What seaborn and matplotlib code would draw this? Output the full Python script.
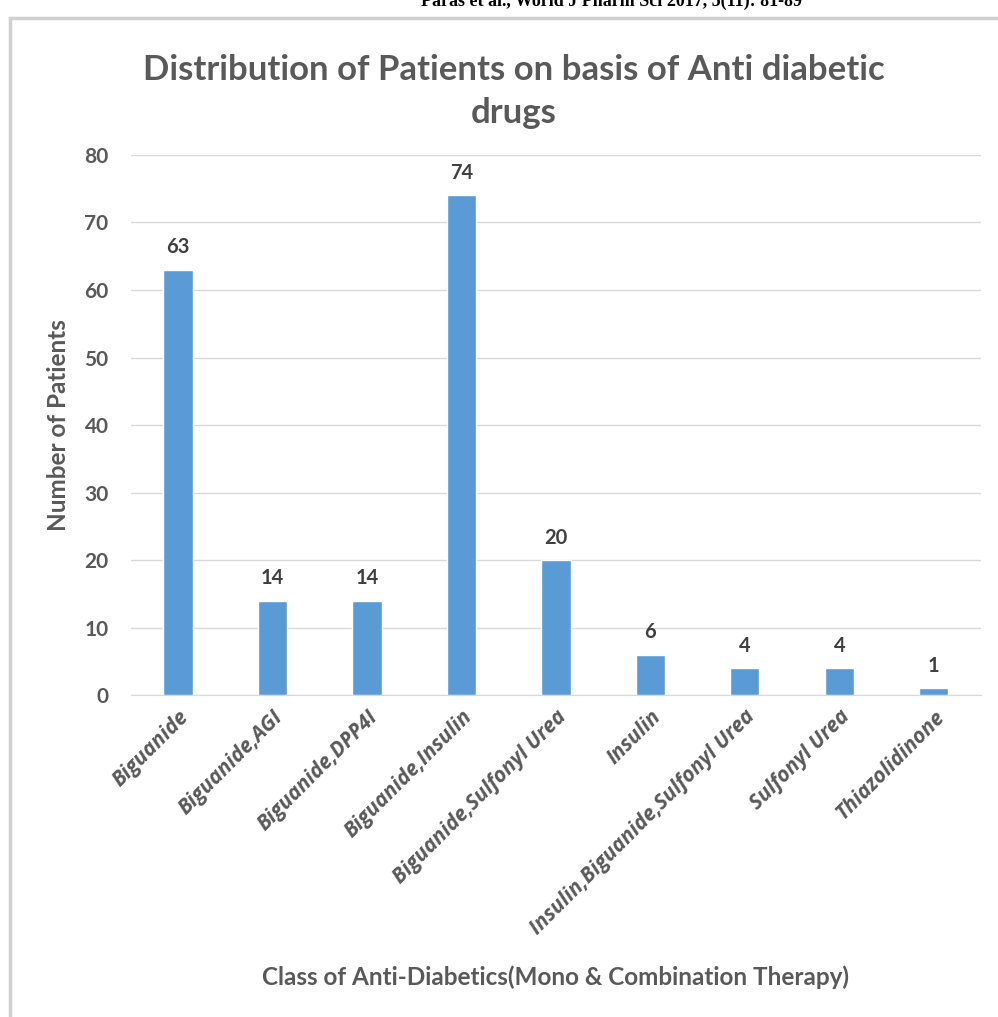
import seaborn as sns
import matplotlib.pyplot as plt
import pandas as pd
from matplotlib.patches import Rectangle

drug_classes = ['Biguanide', 'Biguanide,AGI', 'Biguanide,DPP4I', 'Biguanide,Insulin',
                'Biguanide,Sulfonyl Urea', 'Insulin', 'Insulin,Biguanide,Sulfonyl Urea',
                'Sulfonyl Urea', 'Thiazolidinone']
patients = [63, 14, 14, 74, 20, 6, 4, 4, 1]
y_ticks = [0, 10, 20, 30, 40, 50, 60, 70, 80]

df = pd.DataFrame({'cls': drug_classes, 'n': patients})

sns.set_style('white')
plt.rcParams['font.family'] = ['Lato', 'DejaVu Sans']

fig = plt.figure(figsize=(9.98, 10.17), dpi=100)
ax = fig.add_axes([0.131, 0.3166, 0.852, 0.531])

sns.barplot(data=df, x='cls', y='n', color='#5B9BD5', width=0.31,
            saturation=1, ax=ax, zorder=3)

ax.set_ylim(0, 80)
ax.set_yticks(y_ticks)
ax.set_xlim(-0.5, len(drug_classes) - 0.5)
ax.yaxis.grid(True, color='#D9D9D9', linewidth=1, zorder=0)
for s in ['top', 'right', 'left']:
    ax.spines[s].set_visible(False)
ax.spines['bottom'].set_color('#D9D9D9')
ax.tick_params(axis='both', length=0)
ax.tick_params(axis='y', pad=16)

for lbl in ax.get_yticklabels():
    lbl.set_fontsize(15)
    lbl.set_fontweight('bold')
    lbl.set_color('#595959')

ax.set_xticks(range(len(drug_classes)))
ax.set_xticklabels(drug_classes, rotation=45, ha='right', rotation_mode='anchor',
                   fontsize=15, fontweight='bold', fontstyle='italic', color='#595959',
                   family=['Open Sans', 'DejaVu Sans'])
ax.tick_params(axis='x', pad=8)

for i, v in enumerate(patients):
    ax.text(i, v + 3.3, str(v), ha='center', va='center', fontsize=14.5,
            fontweight='bold', color='#404040')

ax.set_xlabel('Class of Anti-Diabetics(Mono & Combination Therapy)', fontsize=17.5,
              fontweight='bold', color='#595959')
ax.xaxis.set_label_coords(0.5, -0.5)
ax.set_ylabel('Number of Patients', fontsize=17.5, fontweight='bold', color='#595959')
ax.yaxis.set_label_coords(-0.072, 0.5)

fig.text(0.515, 0.910, 'Distribution of Patients on basis of Anti diabetic\ndrugs',
         ha='center', va='center', fontsize=25, fontweight='bold', color='#595959',
         linespacing=1.45)

# page header and frame around the chart
fig.text(0.613, 0.999, 'Paras et al., World J Pharm Sci 2017, 5(11): 81-89',
         ha='center', va='center', fontsize=13, fontweight='bold', color='black',
         family=['Liberation Serif'])
fig.patches.append(Rectangle((0.010, -0.01), 1.1, 0.992, transform=fig.transFigure,
                             fill=False, edgecolor='#D0D0D0', linewidth=2.5))

fig.savefig('out.png', dpi=100)
